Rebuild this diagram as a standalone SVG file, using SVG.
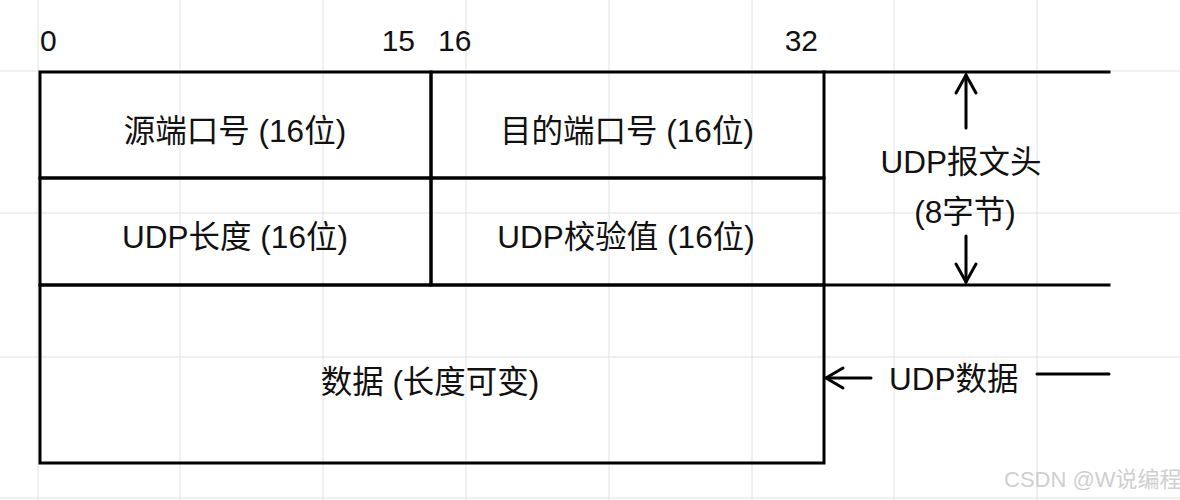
<svg xmlns="http://www.w3.org/2000/svg" width="1180" height="500" viewBox="0 0 1180 500">
  <style>
    .grid { stroke: #e2e2e2; stroke-width: 1; fill: none; }
    .edge { stroke: #000; stroke-width: 3; fill: none; stroke-linecap: square; }
    .arrow { stroke: #000; stroke-width: 3; fill: none; stroke-linecap: round; stroke-linejoin: miter; }
    .lbl { font-family: "Liberation Sans", "Noto Sans CJK SC", sans-serif; font-size: 31.5px; fill: #111; }
    .num { font-family: "Liberation Sans", "Noto Sans CJK SC", sans-serif; font-size: 30px; fill: #111; }
    .wm { font-family: "Liberation Sans", "Noto Sans CJK SC", sans-serif; font-size: 22px; fill: #cfcfcf; }
  </style>
  <rect x="0" y="0" width="1180" height="500" fill="#ffffff"/>
  <g id="grid" class="grid">
    <line x1="38" y1="0" x2="38" y2="500"/>
    <line x1="180" y1="0" x2="180" y2="500"/>
    <line x1="323" y1="0" x2="323" y2="500"/>
    <line x1="466" y1="0" x2="466" y2="500"/>
    <line x1="609" y1="0" x2="609" y2="500"/>
    <line x1="752" y1="0" x2="752" y2="500"/>
    <line x1="894" y1="0" x2="894" y2="500"/>
    <line x1="1037" y1="0" x2="1037" y2="500"/>
    <line x1="0" y1="71" x2="1180" y2="71"/>
    <line x1="0" y1="213" x2="1180" y2="213"/>
    <line x1="0" y1="357" x2="1180" y2="357"/>
    <line x1="0" y1="498" x2="1180" y2="498"/>
  </g>
  <g id="bit-labels">
    <text class="num" x="40" y="51">0</text>
    <text class="num" x="415" y="51" text-anchor="end">15</text>
    <text class="num" x="438" y="51">16</text>
    <text class="num" x="818" y="51" text-anchor="end">32</text>
  </g>
  <g id="src-port">
    <rect class="edge" x="40" y="72" width="391" height="106" fill="#fff"/>
    <text class="lbl" x="235" y="142" text-anchor="middle">源端口号 (16位)</text>
  </g>
  <g id="dst-port">
    <rect class="edge" x="431" y="72" width="393" height="106" fill="#fff"/>
    <text class="lbl" x="627" y="142" text-anchor="middle">目的端口号 (16位)</text>
  </g>
  <g id="udp-length">
    <rect class="edge" x="40" y="178" width="391" height="107" fill="#fff"/>
    <text class="lbl" x="235" y="248" text-anchor="middle">UDP长度 (16位)</text>
  </g>
  <g id="udp-checksum">
    <rect class="edge" x="431" y="178" width="393" height="107" fill="#fff"/>
    <text class="lbl" x="626" y="248" text-anchor="middle">UDP校验值 (16位)</text>
  </g>
  <g id="data">
    <rect class="edge" x="40" y="285" width="784" height="178" fill="#fff"/>
    <text class="lbl" x="430" y="393" text-anchor="middle">数据 (长度可变)</text>
  </g>
  <g id="header-label">
    <text class="lbl" x="961" y="173" text-anchor="middle">UDP报文头</text>
    <text class="lbl" x="965" y="223" text-anchor="middle">(8字节)</text>
  </g>
  <g id="data-label">
    <text class="lbl" x="889" y="390">UDP数据</text>
  </g>
  <g id="connectors">
    <line class="edge" x1="824" y1="72" x2="1109" y2="72"/>
    <line class="edge" x1="824" y1="285" x2="1109" y2="285"/>
    <line class="arrow" x1="966" y1="128" x2="966" y2="75"/>
    <polyline class="arrow" points="956,93 966,75 976,93"/>
    <line class="arrow" x1="966" y1="236" x2="966" y2="282"/>
    <polyline class="arrow" points="956,264 966,282 976,264"/>
    <line class="arrow" x1="871" y1="378" x2="826" y2="378"/>
    <polyline class="arrow" points="843,368 826,378 843,388"/>
    <line class="arrow" x1="1037" y1="374" x2="1109" y2="374"/>
  </g>
  <text class="wm" x="1004" y="487">CSDN @W说编程</text>
</svg>
